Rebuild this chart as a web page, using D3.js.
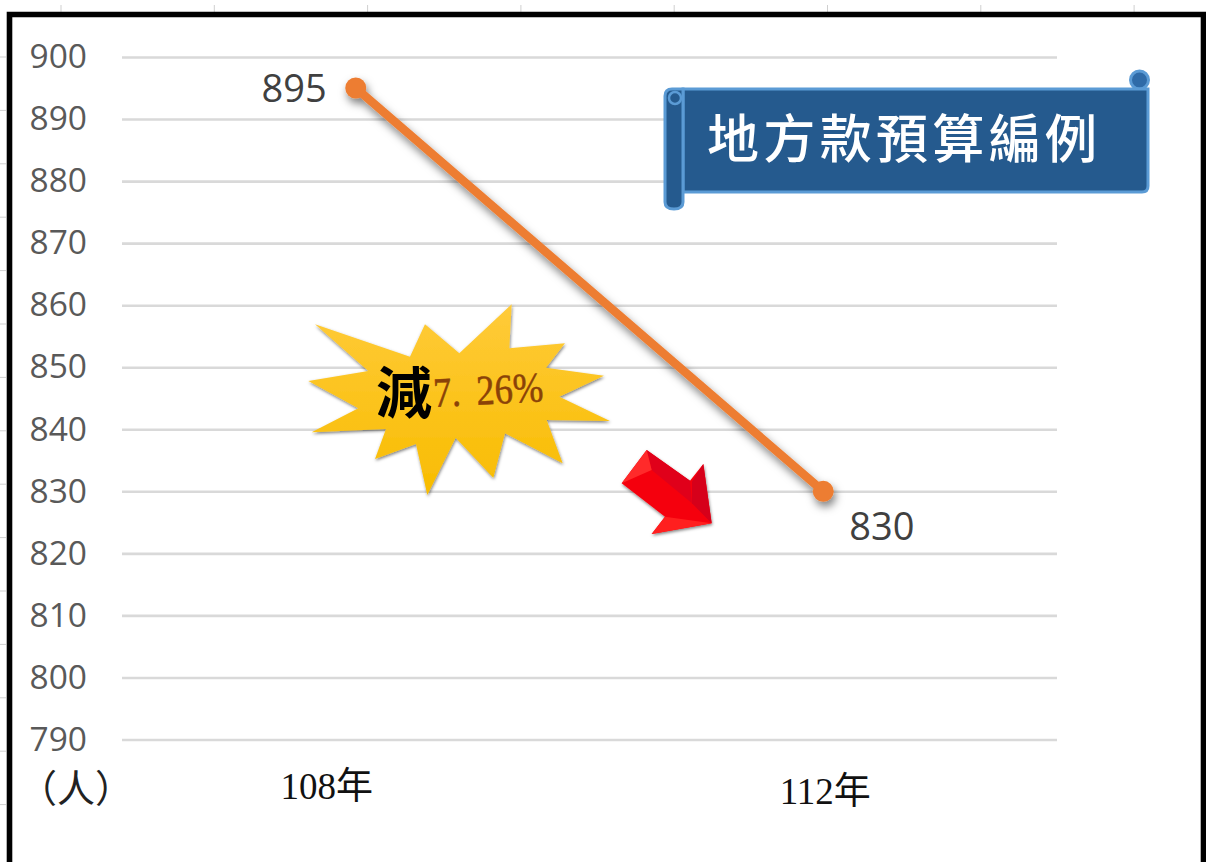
<!DOCTYPE html>
<html>
<head>
<meta charset="utf-8">
<script src="https://cdn.jsdelivr.net/npm/d3@7"></script>
<style>
  html, body { margin: 0; padding: 0; background: #fff; overflow: hidden; }
  svg { display: block; }
</style>
</head>
<body>
<svg id="chart"></svg>
<script>
const categories = ["108年", "112年"];
const values = [895, 830];
const yTicks = [790, 800, 810, 820, 830, 840, 850, 860, 870, 880, 890, 900];
const unitLabel = "（人）";
const bannerTitle = "地方款預算編例";
const burstWord = "減";
const burstPercent = "7.26%";

const width = 1206, height = 862;
const plot = {left: 122, right: 1057, top: 57, bottom: 739.5};
const cjk = "'Noto Sans CJK TC', 'Noto Sans CJK SC', sans-serif";
const serif = "'Liberation Serif', 'Noto Sans CJK TC', serif";

const svg = d3.select("#chart").attr("width", width).attr("height", height);

const x = d3.scaleBand().domain(categories).range([plot.left, plot.right]);
const y = d3.scaleLinear().domain([790, 900]).range([plot.bottom, plot.top]);
const cx = c => x(c) + x.bandwidth() / 2;

// soft shadow shared by the line and the shapes
const defs = svg.append("defs");
const shadow = defs.append("filter").attr("id", "shadow")
    .attr("x", "-20%").attr("y", "-20%").attr("width", "140%").attr("height", "140%");
shadow.append("feDropShadow").attr("dx", 2).attr("dy", 5).attr("stdDeviation", 4)
    .attr("flood-color", "#000").attr("flood-opacity", 0.5);

const gold = defs.append("linearGradient").attr("id", "gold")
    .attr("x1", 0).attr("y1", 0).attr("x2", 0).attr("y2", 1);
gold.append("stop").attr("offset", "0%").attr("stop-color", "#ffcb3a");
gold.append("stop").attr("offset", "100%").attr("stop-color", "#f8bc00");

// leftovers of the spreadsheet behind the pasted picture
svg.append("g").selectAll("line").data(d3.range(8)).join("line")
    .attr("x1", i => 61 + i * 153.3).attr("x2", i => 61 + i * 153.3)
    .attr("y1", 5).attr("y2", 12)
    .attr("stroke", "#cfcfcf").attr("stroke-width", 1);
svg.append("g").selectAll("line").data(d3.range(15)).join("line")
    .attr("x1", 0).attr("x2", 6)
    .attr("y1", i => 57 + i * 53.4).attr("y2", i => 57 + i * 53.4)
    .attr("stroke", "#cfcfcf").attr("stroke-width", 1);

// y axis, its ticks double as gridlines
svg.append("g")
    .attr("transform", `translate(${plot.left},0)`)
    .call(d3.axisLeft(y).tickValues(yTicks).tickSize(-(plot.right - plot.left)).tickPadding(35))
    .call(g => g.select(".domain").remove())
    .call(g => g.selectAll(".tick line").attr("stroke", "#d9d9d9").attr("stroke-width", 2.6))
    .call(g => g.selectAll(".tick text")
        .attr("fill", "#595959")
        .style("font-family", "'Open Sans', sans-serif")
        .style("font-size", "33.5px"));

// hand placed labels under the axis
const catOffset = [{dx: -29, y: 799}, {dx: 2, y: 804}];
svg.append("g").selectAll("text").data(categories).join("text")
    .attr("x", (d, i) => cx(d) + catOffset[i].dx)
    .attr("y", (d, i) => catOffset[i].y)
    .attr("text-anchor", "middle")
    .attr("fill", "#111")
    .style("font-family", serif)
    .style("font-size", "37px")
    .text(d => d);
svg.append("text")
    .attr("x", 19).attr("y", 802)
    .attr("fill", "#222")
    .style("font-family", serif)
    .style("font-size", "38px")
    .text(unitLabel);

// series
const series = categories.map((c, i) => ({c, v: values[i]}));
const line = d3.line().x(d => cx(d.c)).y(d => y(d.v));
const seriesG = svg.append("g").attr("filter", "url(#shadow)");
seriesG.append("path")
    .attr("d", line(series))
    .attr("fill", "none")
    .attr("stroke", "#ed7d31")
    .attr("stroke-width", 8.5);
seriesG.selectAll("circle").data(series).join("circle")
    .attr("cx", d => cx(d.c)).attr("cy", d => y(d.v)).attr("r", 10.5)
    .attr("fill", "#ed7d31");

// data labels
const labelOffset = [{dx: -29, dy: 14, anchor: "end"}, {dx: 26, dy: 49, anchor: "start"}];
svg.append("g").selectAll("text").data(series).join("text")
    .attr("x", (d, i) => cx(d.c) + labelOffset[i].dx)
    .attr("y", (d, i) => y(d.v) + labelOffset[i].dy)
    .attr("text-anchor", (d, i) => labelOffset[i].anchor)
    .attr("fill", "#404040")
    .style("font-family", "'Open Sans', sans-serif")
    .style("font-size", "38px")
    .text(d => d.v);

// burst callout, outline traced in a 3x local space
const burstOutline = [[45,88],[330,185],[375,88],[478,175],[635,28],[628,160],[795,145],[738,218],
  [912,242],[778,305],[930,378],[740,375],[788,505],[615,415],[580,548],[467,428],[382,600],
  [348,447],[225,492],[258,402],[35,412],[175,340],[25,258],[205,228]];
const burst = svg.append("g").attr("transform", "translate(300,295) scale(0.3333)");
burst.append("polygon")
    .attr("points", burstOutline.join(" "))
    .attr("fill", "url(#gold)")
    .attr("filter", "url(#shadow)");
svg.append("text")
    .attr("x", 376).attr("y", 413)
    .attr("fill", "#000")
    .style("font-family", cjk).style("font-weight", 700).style("font-size", "56px")
    .text(burstWord);
const [pctHead, pctTail] = burstPercent.split(".");
const pct = svg.append("text")
    .attr("transform", "translate(434,407) rotate(-3) scale(0.87,1)")
    .attr("fill", "#8a4208")
    .attr("stroke", "#8a4208").attr("stroke-width", 0.5)
    .style("font-family", serif).style("font-size", "42px");
pct.append("tspan").text(pctHead + ".");
pct.append("tspan").attr("dx", 18).text(pctTail);

// red 3d arrow, same 3x local space idea
const arrow = svg.append("g").attr("transform", "translate(610,440) scale(0.3333)");
arrow.append("polygon")
    .attr("points", [[110,30],[240,122],[280,72],[305,250],[125,282],[165,230],[35,130]].join(" "))
    .attr("fill", "#f5000f")
    .attr("filter", "url(#shadow)");
arrow.append("polygon")
    .attr("points", [[110,30],[240,122],[246,190],[125,90]].join(" "))
    .attr("fill", "#e0001a");
arrow.append("polygon")
    .attr("points", [[110,30],[125,90],[35,130]].join(" "))
    .attr("fill", "#ff2a2a");
arrow.append("polygon")
    .attr("points", [[280,72],[305,250],[246,190],[246,125]].join(" "))
    .attr("fill", "#d6001a");
arrow.append("polygon")
    .attr("points", [[125,282],[165,230],[305,250]].join(" "))
    .attr("fill", "#ff1f1f");

// scroll banner
const bannerFill = "#255a8e", bannerEdge = "#5b9bd5";
const banner = svg.append("g").attr("stroke", bannerEdge).attr("stroke-width", 3);
banner.append("circle").attr("cx", 1139.5).attr("cy", 80).attr("r", 9).attr("fill", "#2f6ba8");
banner.append("path")
    .attr("d", "M683,89 H1148 V186 Q1148,192 1142,192 H683 Z")
    .attr("fill", bannerFill);
banner.append("path")
    .attr("d", "M665,96 Q665,89 672,89 H683 V202 Q683,209 674,209 Q665,209 665,202 Z")
    .attr("fill", bannerFill);
banner.append("circle").attr("cx", 675).attr("cy", 98).attr("r", 6).attr("fill", "none").attr("stroke-width", 2.5);
svg.append("text")
    .attr("x", 707).attr("y", 158)
    .attr("fill", "#fff")
    .attr("textLength", 390)
    .style("font-family", cjk).style("font-weight", 500).style("font-size", "52px")
    .text(bannerTitle);

// black frame, runs off the bottom of the crop
svg.append("path")
    .attr("d", `M9.5,${height} V14.5 H1203.5 V${height}`)
    .attr("fill", "none")
    .attr("stroke", "#000")
    .attr("stroke-width", 5.6);
</script>
</body>
</html>
